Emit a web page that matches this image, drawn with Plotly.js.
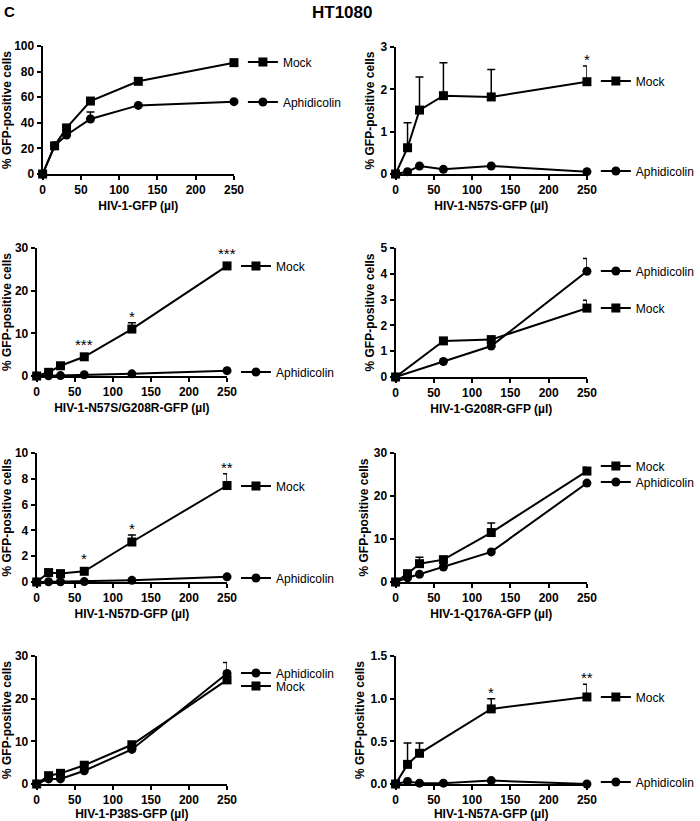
<!DOCTYPE html>
<html>
<head>
<meta charset="utf-8">
<script src="https://cdn.plot.ly/plotly-3.0.1.min.js"></script>
<style>html,body{margin:0;padding:0;background:#fff}</style>
</head>
<body>
<div id="chart" style="width:700px;height:821px"></div>
<script>
// doses (µl of virus)
const doses = [0, 15.625, 31.25, 62.5, 125, 250];
const dosesG208R = [0, 62.5, 125, 250];
const dosesN57AMock = [0, 15.625, 31.25, 125, 250];

// HIV-1-GFP
const gfpMock = [0, 22, 36, 57, 72.4, 87];
const gfpAph = [0, 22, 30.5, 43, 53.6, 56.5];
const gfpAphErr = [null, null, null, 5.4, null, null];

// HIV-1-N57S-GFP
const n57sMock = [0, 0.62, 1.51, 1.85, 1.82, 2.18];
const n57sMockErr = [null, 0.59, 0.78, 0.78, 0.65, 0.37];
const n57sMockStars = ["", "", "", "", "", "*"];
const n57sAph = [0, 0.055, 0.19, 0.11, 0.19, 0.055];

// HIV-1-N57S/G208R-GFP
const n57sG208rMock = [0, 0.86, 2.4, 4.5, 11, 25.8];
const n57sG208rMockErr = [null, null, null, null, 1.5, null];
const n57sG208rMockStars = ["", "", "", "***", "*", "***"];
const n57sG208rAph = [0, 0.05, 0.1, 0.3, 0.5, 1.25];

// HIV-1-G208R-GFP
const g208rMock = [0, 1.4, 1.45, 2.67];
const g208rMockErr = [null, null, null, 0.3];
const g208rAph = [0, 0.6, 1.2, 4.1];
const g208rAphErr = [null, null, null, 0.49];

// HIV-1-N57D-GFP
const n57dMock = [0, 0.73, 0.65, 0.83, 3.1, 7.48];
const n57dMockErr = [null, null, null, null, 0.54, 0.92];
const n57dMockStars = ["", "", "", "*", "*", "**"];
const n57dAph = [0, 0.02, 0.02, 0.03, 0.13, 0.4];

// HIV-1-Q176A-GFP
const q176aMock = [0, 1.94, 4.26, 5.2, 11.5, 25.8];
const q176aMockErr = [null, null, 1.5, null, 2.2, 0.9];
const q176aAph = [0, 1.0, 1.8, 3.5, 7.0, 23];

// HIV-1-P38S-GFP
const p38sMock = [0, 1.95, 2.5, 4.4, 9.2, 24.4];
const p38sAph = [0, 1.2, 1.2, 3.1, 8.1, 25.9];
const p38sAphErr = [null, null, null, null, null, 2.6];

// HIV-1-N57A-GFP
const n57aMock = [0, 0.23, 0.36, 0.88, 1.02];
const n57aMockErr = [null, 0.25, 0.12, 0.12, 0.15];
const n57aMockStars = ["", "", "", "*", "**"];
const n57aAph = [0, 0.03, 0.01, 0.01, 0.04, 0];

const panels = [
  { xlab: "HIV-1-GFP (µl)", yMax: 100, dtick: 20,
    mock: { x: doses, y: gfpMock }, aph: { x: doses, y: gfpAph, err: gfpAphErr } },
  { xlab: "HIV-1-N57S-GFP (µl)", yMax: 3, dtick: 1,
    mock: { x: doses, y: n57sMock, err: n57sMockErr, stars: n57sMockStars }, aph: { x: doses, y: n57sAph } },
  { xlab: "HIV-1-N57S/G208R-GFP (µl)", yMax: 30, dtick: 10,
    mock: { x: doses, y: n57sG208rMock, err: n57sG208rMockErr, stars: n57sG208rMockStars }, aph: { x: doses, y: n57sG208rAph } },
  { xlab: "HIV-1-G208R-GFP (µl)", yMax: 5, dtick: 1,
    mock: { x: dosesG208R, y: g208rMock, err: g208rMockErr }, aph: { x: dosesG208R, y: g208rAph, err: g208rAphErr } },
  { xlab: "HIV-1-N57D-GFP (µl)", yMax: 10, dtick: 2,
    mock: { x: doses, y: n57dMock, err: n57dMockErr, stars: n57dMockStars }, aph: { x: doses, y: n57dAph } },
  { xlab: "HIV-1-Q176A-GFP (µl)", yMax: 30, dtick: 10,
    mock: { x: doses, y: q176aMock, err: q176aMockErr }, aph: { x: doses, y: q176aAph } },
  { xlab: "HIV-1-P38S-GFP (µl)", yMax: 30, dtick: 10,
    mock: { x: doses, y: p38sMock }, aph: { x: doses, y: p38sAph, err: p38sAphErr } },
  { xlab: "HIV-1-N57A-GFP (µl)", yMax: 1.5, dtick: 0.5, tickformat: ".1f",
    mock: { x: dosesN57AMock, y: n57aMock, err: n57aMockErr, stars: n57aMockStars }, aph: { x: doses, y: n57aAph } }
];

// plot boxes in px: [left, right, top, bottom]
const boxes = [
  [43, 236, 46, 174], [399, 592, 47, 174],
  [37, 229, 248, 376], [399, 592, 248, 377],
  [37, 229, 453, 582], [399, 592, 453, 582],
  [37, 229, 656, 784], [399, 592, 656, 784]
];
// legend text start x and item centre y (mock, aphidicolin) in px
const legendPos = [
  [287, 62, 102], [643, 81, 171],
  [280, 266, 372], [643, 308, 271],
  [280, 486, 578], [643, 466, 482],
  [280, 686, 673], [643, 697, 782]
];

const W = 700, H = 821;
const FONT = '"Liberation Sans", Arial, sans-serif';
const traces = [];
const annotations = [
  { text: "<b>HT1080</b>", xref: "paper", yref: "paper", x: 345 / W, y: 1 - 13 / H,
    xanchor: "center", yanchor: "middle", showarrow: false, font: { family: FONT, size: 17, color: "#000" } },
  { text: "<b>C</b>", xref: "paper", yref: "paper", x: 2 / W, y: 1 - 11 / H,
    xanchor: "left", yanchor: "middle", showarrow: false, font: { family: FONT, size: 15, color: "#000" } }
];
const layout = {
  width: W, height: H,
  margin: { l: 0, r: 0, t: 0, b: 0 },
  paper_bgcolor: "#fff", plot_bgcolor: "rgba(0,0,0,0)",
  font: { family: FONT, color: "#000" },
  showlegend: true,
  annotations
};

panels.forEach((p, i) => {
  const n = i + 1;
  const sfx = n === 1 ? "" : String(n);
  const b = boxes[i];
  const axisCommon = {
    showline: true, linecolor: "#000", linewidth: 2,
    ticks: "outside", ticklen: 4, tickwidth: 2, tickcolor: "#000",
    showgrid: false, zeroline: false, fixedrange: true,
    tickfont: { family: FONT, size: 12, weight: "bold", color: "#000" }
  };
  layout["xaxis" + sfx] = {
    ...axisCommon,
    domain: [b[0] / W, b[1] / W], anchor: "y" + sfx,
    range: [0, 250], tickvals: [0, 50, 100, 150, 200, 250],
    title: { text: p.xlab, standoff: 5, font: { family: FONT, size: 12, weight: "bold", color: "#000" } }
  };
  layout["yaxis" + sfx] = {
    ...axisCommon,
    domain: [1 - b[3] / H, 1 - b[2] / H], anchor: "x" + sfx,
    range: [0, p.yMax], dtick: p.dtick, tick0: 0, tickformat: p.tickformat || "",
    title: { text: "% GFP-positive cells", standoff: 3, font: { family: FONT, size: 12, weight: "bold", color: "#000" } }
  };

  const lp = legendPos[i];
  [["Aphidicolin", p.aph, "circle", lp[2]], ["Mock", p.mock, "square", lp[1]]].forEach(([name, s, symbol, ly]) => {
    const idx = 2 * i + (name === "Mock" ? 1 : 2);
    const lg = idx === 1 ? "legend" : "legend" + idx;
    const tr = {
      type: "scatter", mode: "lines+markers",
      x: s.x, y: s.y, xaxis: "x" + sfx, yaxis: "y" + sfx,
      name, legend: lg, cliponaxis: false,
      line: { color: "#000", width: 2 },
      marker: { symbol, size: 9, color: "#000" },
      hoverinfo: "skip"
    };
    if (s.err) {
      tr.error_y = {
        type: "data", symmetric: false, array: s.err, arrayminus: s.err.map(() => 0),
        color: "#000", thickness: 1.5, width: 4
      };
    }
    traces.push(tr);
    layout[lg] = {
      x: (lp[0] - 42) / W, y: 1 - ly / H, xanchor: "left", yanchor: "middle",
      bgcolor: "rgba(0,0,0,0)", borderwidth: 0, tracegroupgap: 0,
      font: { family: FONT, size: 12, color: "#000" }
    };
    if (s.stars) {
      s.stars.forEach((st, j) => {
        if (!st) return;
        const e = s.err && s.err[j] ? s.err[j] : 0;
        annotations.push({
          text: st, xref: "x" + sfx, yref: "y" + sfx, x: s.x[j], y: s.y[j] + e,
          xanchor: "center", yanchor: "bottom", yshift: e ? -4 : 2, showarrow: false,
          font: { family: FONT, size: 15, color: "#000" }
        });
      });
    }
  });
});

Plotly.newPlot("chart", traces, layout, { displayModeBar: false, staticPlot: true });
</script>
</body>
</html>
